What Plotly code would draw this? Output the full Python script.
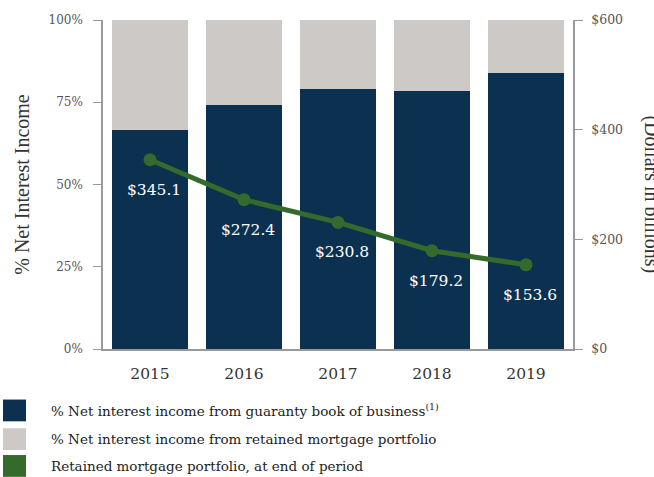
import plotly.graph_objects as go

years = ["2015", "2016", "2017", "2018", "2019"]
guaranty_pct = [66.6, 74.1, 78.9, 78.3, 84.0]
retained_pct = [100 - v for v in guaranty_pct]
portfolio_bn = [345.1, 272.4, 230.8, 179.2, 153.6]

left_ticks = [0, 25, 50, 75, 100]
left_tick_text = ["0%", "25%", "50%", "75%", "100%"]
right_ticks = [0, 200, 400, 600]
right_tick_text = ["$0", "$200", "$400", "$600"]

legend_labels = [
    "% Net interest income from guaranty book of business<sup>(1)</sup>",
    "% Net interest income from retained mortgage portfolio",
    "Retained mortgage portfolio, at end of period",
]

NAVY = "#0b3050"
GREY = "#cdc9c6"
GREEN = "#346b2c"
TITLE_FONT = "Liberation Serif, serif"
BODY_FONT = "DejaVu Serif, serif"

fig = go.Figure()
fig.add_trace(go.Bar(x=years, y=guaranty_pct, marker=dict(color=NAVY, line=dict(width=0)),
                     yaxis="y", showlegend=False))
fig.add_trace(go.Bar(x=years, y=retained_pct, marker=dict(color=GREY, line=dict(width=0)),
                     yaxis="y", showlegend=False))
fig.add_trace(go.Scatter(x=years, y=portfolio_bn, yaxis="y2", mode="lines+markers",
                         line=dict(color=GREEN, width=5),
                         marker=dict(color=GREEN, size=13), showlegend=False))

# dollar value labels beneath each point (x given as category index)
for i, v in enumerate(portfolio_bn):
    fig.add_annotation(x=i, y=v, xref="x", yref="y2", text=f"${v:.1f}", showarrow=False,
                       yshift=-30, xshift=4,
                       font=dict(family=BODY_FONT, size=15.5, color="white"))

# legend drawn as swatches with labels below the plot
swatch_colors = [NAVY, GREY, GREEN]
rows_y = [411, 440, 467]
for c, lab, yc in zip(swatch_colors, legend_labels, rows_y):
    fig.add_shape(type="rect", xref="paper", yref="paper",
                  x0=(3 - 103) / 470, x1=(26 - 103) / 470,
                  y0=(349 - (yc + 11)) / 332, y1=(349 - (yc - 11)) / 332,
                  fillcolor=c, line=dict(width=0))
    fig.add_annotation(xref="paper", yref="paper", x=(49 - 103) / 470, y=(349 - yc) / 332,
                       xanchor="left", yanchor="middle", text=lab, showarrow=False,
                       font=dict(family=BODY_FONT, size=13.5, color="#222"))

# right-hand axis title, running off the right edge
fig.add_annotation(xref="paper", yref="paper", x=(652 - 103) / 470, y=(349 - 193) / 332,
                   text="(Dollars in billions)", textangle=90, showarrow=False,
                   xanchor="center", yanchor="middle",
                   font=dict(family=TITLE_FONT, size=20, color="#333"))

fig.update_layout(
    width=654, height=477,
    margin=dict(l=103, r=81, t=17, b=128),
    barmode="stack", bargap=0.19,
    plot_bgcolor="white", paper_bgcolor="white",
    font=dict(family=BODY_FONT, color="#333"),
    xaxis=dict(type="category", range=[-0.5, len(years) - 0.5], showline=True,
               linecolor="#999", linewidth=1.5, ticks="", ticklabelstandoff=10,
               tickfont=dict(family=BODY_FONT, size=15.5, color="#333"), showgrid=False),
    yaxis=dict(range=[0, 100], tickvals=left_ticks, ticktext=left_tick_text,
               showline=True, linecolor="#999", linewidth=1.5, ticks="outside",
               ticklen=8, tickcolor="#999", showgrid=False, zeroline=False,
               tickfont=dict(family=BODY_FONT, size=12, color="#555"), ticklabelstandoff=8,
               title=dict(text="% Net Interest Income",
                          font=dict(family=TITLE_FONT, size=20, color="#333"),
                          standoff=14)),
    yaxis2=dict(range=[0, 600], tickvals=right_ticks, ticktext=right_tick_text,
                overlaying="y", side="right", showline=True, linecolor="#999",
                linewidth=1.5, ticks="outside", ticklen=8, tickcolor="#999",
                showgrid=False, zeroline=False, ticklabelstandoff=6,
                tickfont=dict(family=BODY_FONT, size=12.5, color="#555")),
)

fig.write_html("out.html")
